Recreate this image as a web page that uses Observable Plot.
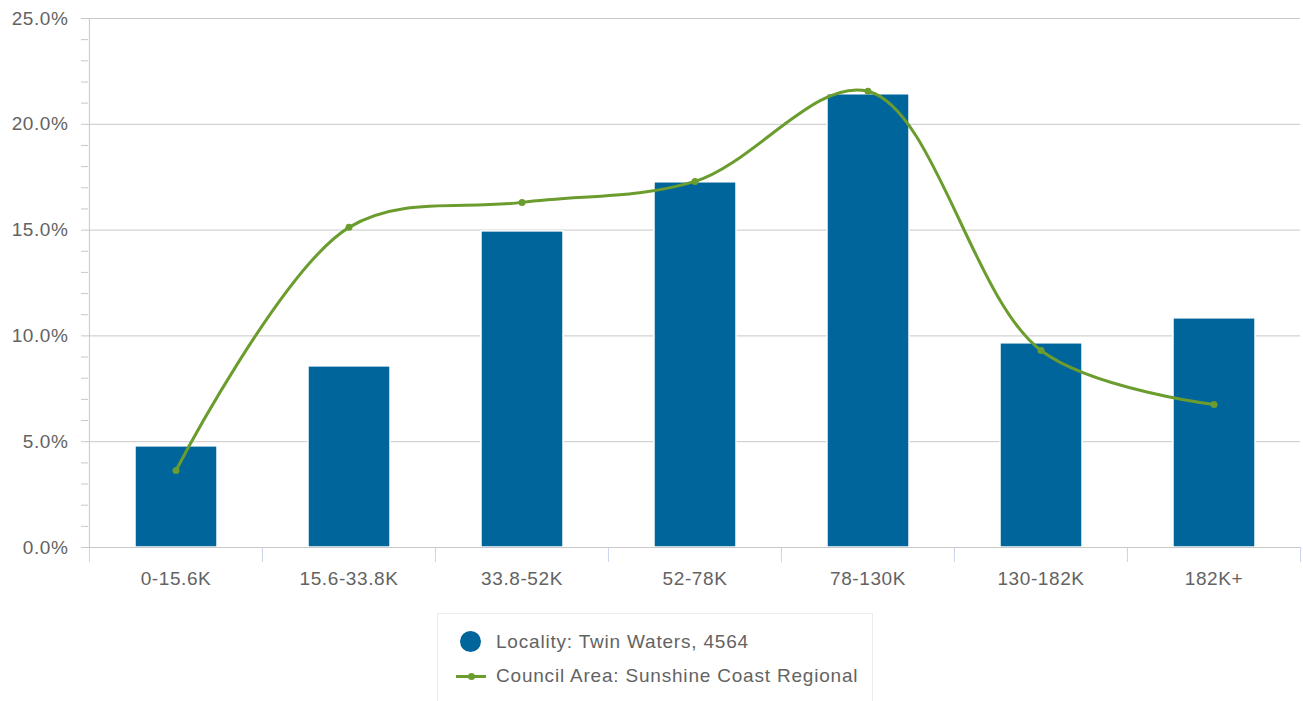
<!DOCTYPE html>
<html>
<head>
<meta charset="utf-8">
<script src="https://cdn.jsdelivr.net/npm/d3@7"></script>
<script src="https://cdn.jsdelivr.net/npm/@observablehq/plot@0.6"></script>
<style>
  body { margin: 0; background: #fff; font-family: "Liberation Sans", Arial, sans-serif; }
  #chart { width: 1303px; height: 600px; }
  #chart text { letter-spacing: 0.6px; }
  .legend { position: absolute; left: 437px; top: 613px; width: 436px; height: 88px; border: 1px solid #ececec; border-bottom: none; box-sizing: border-box; }
  .li { position: absolute; left: 58px; font-size: 19px; line-height: 22px; color: #636363; white-space: nowrap; letter-spacing: 0.8px; }
  .dot { position: absolute; left: 22px; top: 17px; width: 21px; height: 21px; border-radius: 50%; background: #00659b; }
  .ln { position: absolute; left: 18px; top: 61px; width: 30px; height: 3px; background: #6b9c2e; }
  .ln::after { content: ""; position: absolute; left: 12px; top: -2px; width: 7px; height: 7px; border-radius: 50%; background: #6b9c2e; }
</style>
</head>
<body>
<div id="chart"></div>
<div class="legend">
  <div class="dot"></div><div class="li" style="top:17px">Locality: Twin Waters, 4564</div>
  <div class="ln"></div><div class="li" style="top:51px">Council Area: Sunshine Coast Regional</div>
</div>
<script>
const categories = ["0-15.6K", "15.6-33.8K", "33.8-52K", "52-78K", "78-130K", "130-182K", "182K+"];
const localityValues = [4.78, 8.56, 14.94, 17.26, 21.42, 9.65, 10.83];
const councilValues = [3.64, 15.13, 16.31, 17.30, 21.56, 9.31, 6.76];
const yTicks = [0, 5, 10, 15, 20, 25];
const yMinorTicks = d3.range(0, 26, 1);

const W = 1303, H = 600, mL = 88, mR = 3, mT = 18, mB = 53;
const bw = (W - mL - mR) / categories.length;

const bars = categories.map((c, i) => ({cat: c, value: localityValues[i]}));
const line = categories.map((c, i) => ({cat: c, value: councilValues[i]}));

const chart = Plot.plot({
  width: W, height: H,
  marginLeft: mL, marginRight: mR, marginTop: mT, marginBottom: mB,
  style: {fontFamily: "Liberation Sans, Arial, sans-serif", fontSize: "19px", color: "#636363", background: "#fff"},
  x: {domain: categories, padding: 0, label: null},
  y: {domain: [0, 25], label: null},
  marks: [
    Plot.gridY(yTicks, {stroke: "#c8c8c8", strokeOpacity: 1}),
    Plot.axisY(yMinorTicks, {tickSize: 7, stroke: "#c8c8c8", tickFormat: d => d % 5 === 0 ? d.toFixed(1) + "%" : "", tickPadding: 13, fill: "#636363", fontSize: 19}),
    Plot.ruleX([categories[0]], {dx: -bw / 2, stroke: "#c8c8c8"}),
    Plot.ruleX(categories, {y1: 0, y2: 0, insetBottom: -15, dx: -bw / 2, stroke: "#c6d4ec"}),
    Plot.ruleX([categories[categories.length - 1]], {y1: 0, y2: 0, insetBottom: -15, dx: bw / 2, stroke: "#c6d4ec"}),
    Plot.barY(bars, {x: "cat", y: "value", fill: "#00659b", insetLeft: 46, insetRight: 45, stroke: "#fff", strokeWidth: 1.5}),
    Plot.ruleY([0], {stroke: "#c8c8c8"}),
    Plot.axisX({tickSize: 0, tickPadding: 24, fill: "#636363", fontSize: 19}),
    Plot.line(line, {x: "cat", y: "value", stroke: "#6b9c2e", strokeWidth: 3, curve: "catmull-rom"}),
    Plot.dot(line, {x: "cat", y: "value", fill: "#6b9c2e", r: 3.5})
  ]
});
document.getElementById("chart").appendChild(chart);
</script>
</body>
</html>
